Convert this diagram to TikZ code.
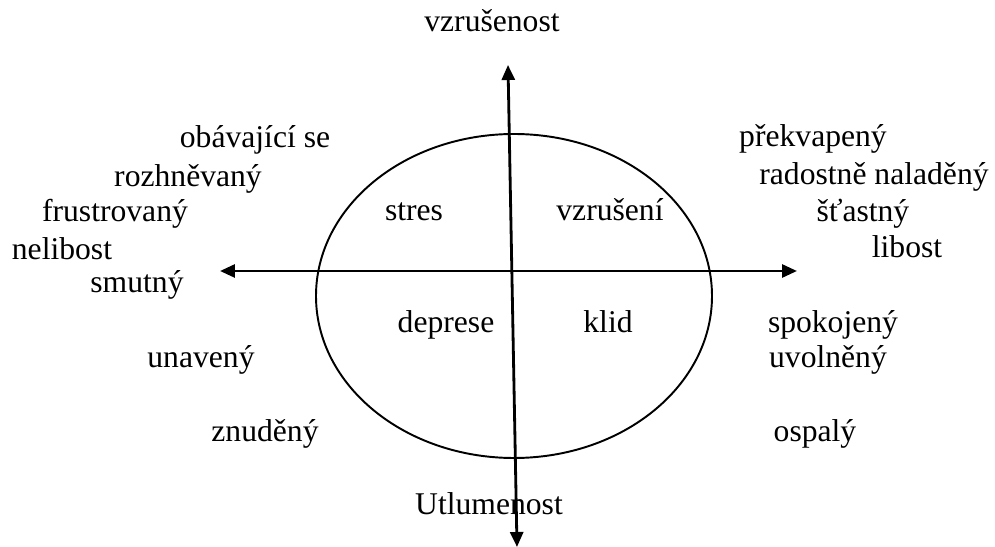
\documentclass[tikz,border=0pt]{standalone}
\usepackage{fontspec}
\setmainfont{Liberation Serif}
\usetikzlibrary{arrows.meta}
\tikzset{
  lbl/.style  = {inner sep=0pt, text height=0.75em, text depth=0.22em,
                 yshift=-0.1cm, font=\fontsize{18}{22}\selectfont},
  axis/.style = {{Triangle[length=0.3cm,width=0.26cm]}-{Triangle[length=0.3cm,width=0.26cm]},
                 line width=1.6pt},
  oval/.style = {line width=1.1pt},
}
\begin{document}
\begin{tikzpicture}[x=0.02cm,y=-0.02cm]
\useasboundingbox (0,0) rectangle (995,547);
% axes
\coordinate (xl) at (220,271);
\coordinate (xr) at (797,271);
\coordinate (yt) at (508,65);
\coordinate (yb) at (517,547);
\coordinate (c) at (514,296);
\draw[oval] (c) ellipse (198 and 162);
\draw[axis] (xl) -- (xr);
\draw[axis] (yb) -- (yt);
% axis labels
\node[lbl] (top) at (492,22) {vzrušenost};
\node[lbl] (bot) at (489,505) {Utlumenost};
% quadrants
\node[lbl] (q1) at (414,211) {stres};
\node[lbl] (q2) at (610,211) {vzrušení};
\node[lbl] (q3) at (446,323) {deprese};
\node[lbl] (q4) at (608,323) {klid};
% left side
\node[lbl] (l1) at (255,138) {obávající se};
\node[lbl] (l2) at (188,177) {rozhněvaný};
\node[lbl] (l3) at (115,212) {frustrovaný};
\node[lbl] (l4) at (62,250) {nelibost};
\node[lbl] (l5) at (137,283) {smutný};
\node[lbl] (l6) at (201,358) {unavený};
\node[lbl] (l7) at (265,432) {znuděný};
% right side
\node[lbl] (r1) at (813,137) {překvapený};
\node[lbl] (r2) at (874,175) {radostně naladěný};
\node[lbl] (r3) at (863,212) {šťastný};
\node[lbl] (r4) at (907,248) {libost};
\node[lbl] (r5) at (833,323) {spokojený};
\node[lbl] (r6) at (828,358) {uvolněný};
\node[lbl] (r7) at (815,432) {ospalý};
\end{tikzpicture}
\end{document}
